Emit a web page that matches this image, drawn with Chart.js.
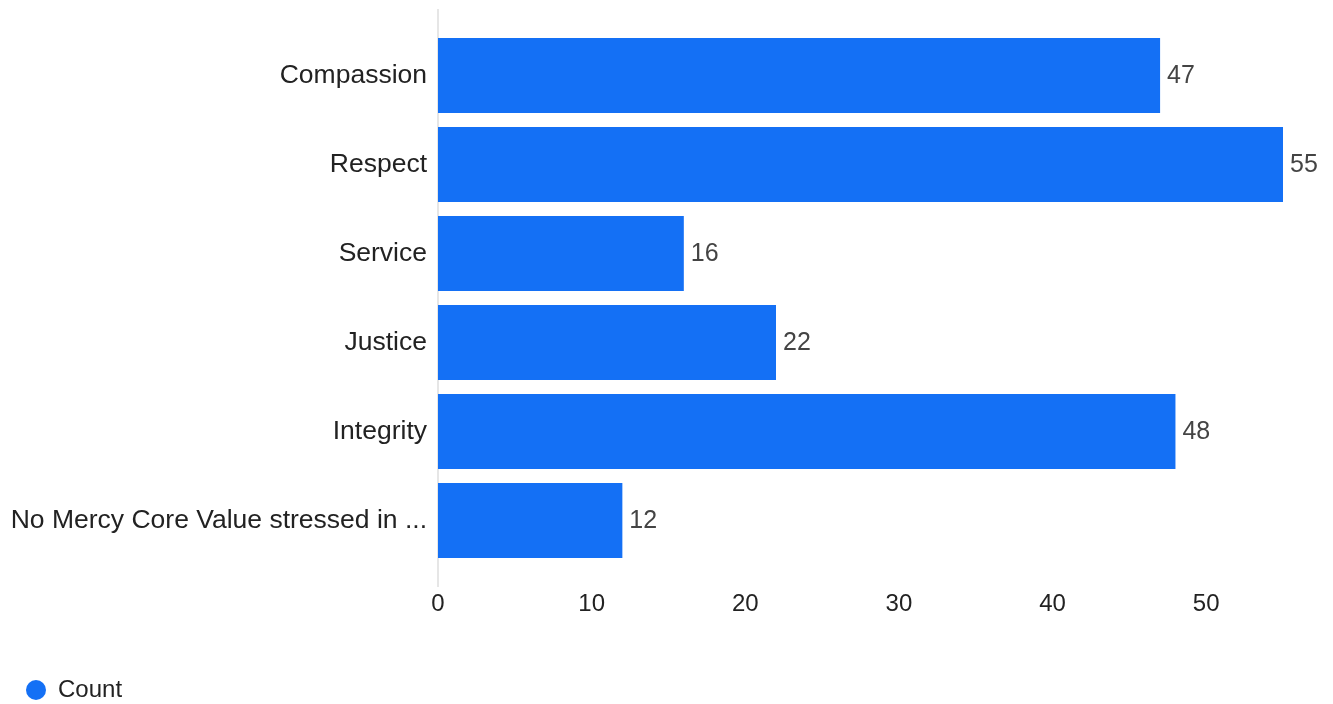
<!DOCTYPE html>
<html>
<head>
<meta charset="utf-8">
<script src="https://cdn.jsdelivr.net/npm/chart.js@4/dist/chart.umd.min.js"></script>
<style>
  html, body { margin: 0; padding: 0; background: #ffffff; overflow: hidden; }
  #wrap { width: 1333px; height: 704px; position: relative; }
</style>
</head>
<body>
<div id="wrap"><canvas id="c"></canvas></div>
<script>
const categories = [
  "Compassion",
  "Respect",
  "Service",
  "Justice",
  "Integrity",
  "No Mercy Core Value stressed in ..."
];
const seriesName = "Count";
const counts = [47, 55, 16, 22, 48, 12];
const xTicks = [0, 10, 20, 30, 40, 50];

const FONT = "'Liberation Sans', Arial, Helvetica, sans-serif";
const BAR = "#1470f5";

const zeroLine = {
  id: "zeroLine",
  beforeDatasetsDraw(chart) {
    const x = chart.scales.x.getPixelForValue(0);
    const a = chart.chartArea;
    const ctx = chart.ctx;
    ctx.save();
    ctx.strokeStyle = "#e6e6e6";
    ctx.lineWidth = 2;
    ctx.beginPath();
    ctx.moveTo(x, a.top - 22);
    ctx.lineTo(x, a.bottom + 22);
    ctx.stroke();
    ctx.restore();
  }
};

const valueLabels = {
  id: "valueLabels",
  afterDatasetsDraw(chart) {
    const ctx = chart.ctx;
    const meta = chart.getDatasetMeta(0);
    const data = chart.data.datasets[0].data;
    ctx.save();
    ctx.font = "25px " + FONT;
    ctx.fillStyle = "#444444";
    ctx.textAlign = "left";
    ctx.textBaseline = "middle";
    meta.data.forEach((el, i) => {
      ctx.fillText(String(data[i]), el.x + 7, el.y + 1);
    });
    ctx.restore();
  }
};

new Chart(document.getElementById("c"), {
  type: "bar",
  data: {
    labels: categories,
    datasets: [{
      label: seriesName,
      data: counts,
      backgroundColor: BAR,
      borderWidth: 0,
      barPercentage: 0.843,
      categoryPercentage: 1.0
    }]
  },
  options: {
    indexAxis: "y",
    responsive: true,
    maintainAspectRatio: false,
    animation: false,
    layout: { padding: { top: 31, right: 50, bottom: -8, left: 0 } },
    scales: {
      x: {
        min: 0,
        max: 55,
        afterBuildTicks(scale) { scale.ticks = xTicks.map(v => ({ value: v })); },
        afterFit(scale) { scale.height = 87; },
        grid: { display: false, drawTicks: false },
        border: { display: false },
        ticks: {
          padding: 25,
          color: "#222222",
          font: { family: FONT, size: 24 }
        }
      },
      y: {
        afterFit(scale) { scale.width = 438; },
        grid: { display: false, drawTicks: false },
        border: { display: false },
        ticks: {
          padding: 11,
          color: "#222222",
          font: { family: FONT, size: 26.5 },
          autoSkip: false
        }
      }
    },
    plugins: {
      legend: {
        position: "bottom",
        align: "start",
        labels: {
          usePointStyle: true,
          pointStyle: "circle",
          pointStyleWidth: 20,
          boxWidth: 20,
          boxHeight: 14,
          padding: 26,
          color: "#222222",
          font: { family: FONT, size: 24, lineHeight: 1 }
        }
      },
      tooltip: { enabled: false }
    }
  },
  plugins: [zeroLine, valueLabels]
});
</script>
</body>
</html>
